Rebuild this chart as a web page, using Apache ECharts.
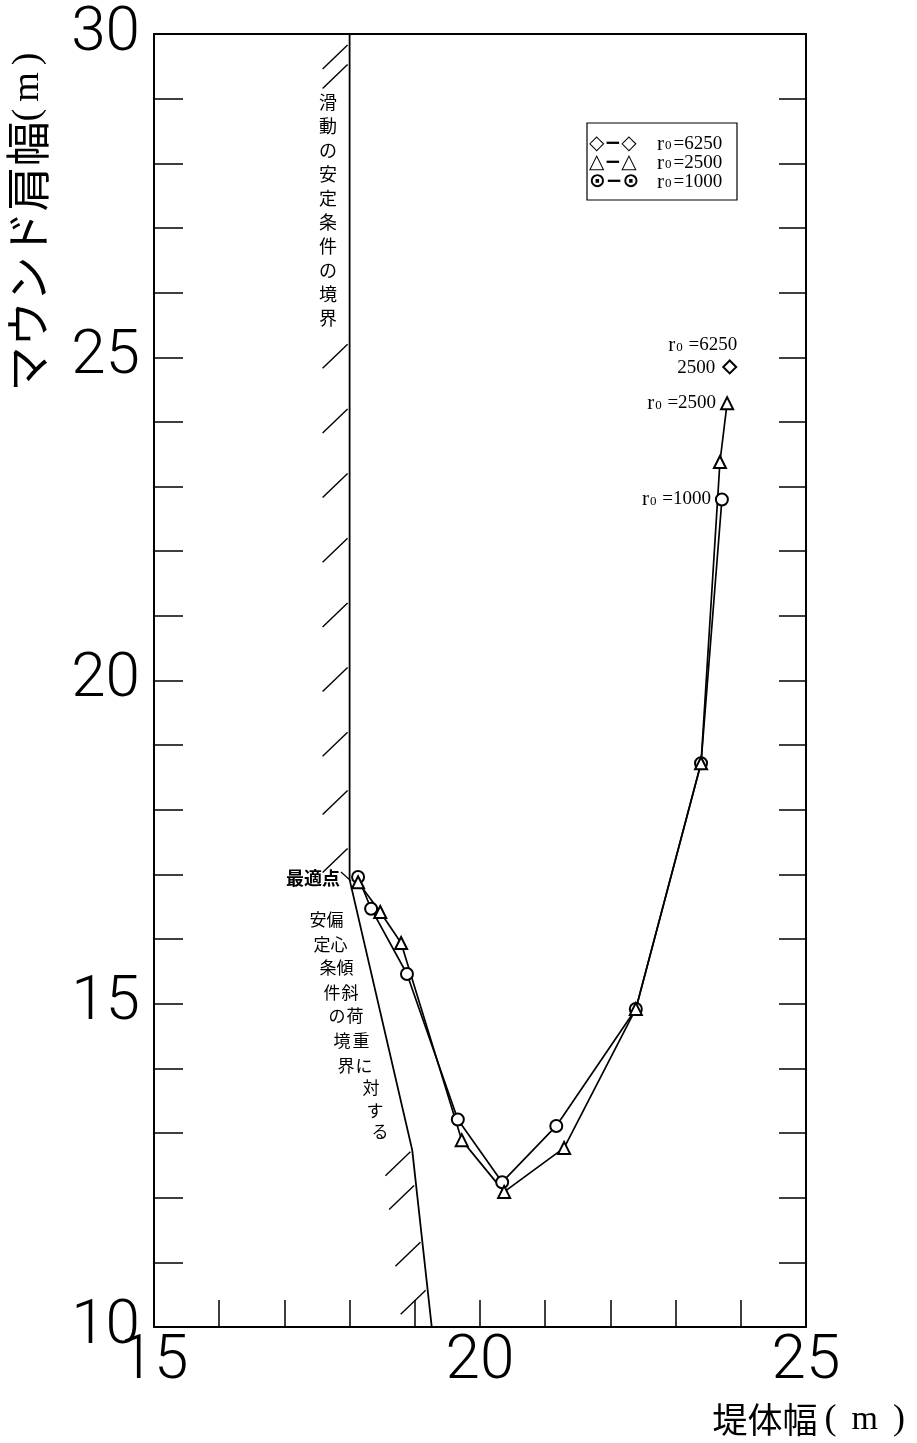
<!DOCTYPE html>
<html>
<head>
<meta charset="utf-8">
<script src="https://cdn.jsdelivr.net/npm/echarts@6/dist/echarts.min.js"></script>
<style>
html,body{margin:0;padding:0;background:#fff;}
#chart{width:917px;height:1443px;}
</style>
</head>
<body>
<div id="chart"></div>
<script>
// ---- data ----
const xTickLabels = [15, 20, 25];
const yTickLabels = [10, 15, 20, 25, 30];
const r1000 = [[18.13,16.96],[18.33,16.47],[18.88,15.46],[19.66,13.21],[20.34,12.24],[21.17,13.11],[22.39,14.92],[23.39,18.72],[23.71,22.80]];
const r2500 = [[18.13,16.88],[18.47,16.42],[18.79,15.94],[19.72,12.89],[20.37,12.09],[21.29,12.77],[22.39,14.92],[23.39,18.72],[23.68,23.38],[23.79,24.29]];
const r6250 = [[23.83,24.85]];
const slideBoundary = [[18.0,30.0],[18.0,16.92]];
const eccBoundary = [[18.0,16.92],[18.96,12.74],[19.26,10.0]];
const slideHatchY = [29.83,29.53,25.2,24.2,23.2,22.2,21.2,20.2,19.2,18.3,17.4];
const eccHatchY = [12.71,12.19,11.31,10.57];

function xOnBoundary(b, y){
  for(let i=0;i<b.length-1;i++){
    const a=b[i], c=b[i+1];
    if((y<=a[1]&&y>=c[1])||(y>=a[1]&&y<=c[1])){
      const t=(y-a[1])/(c[1]-a[1]);
      return a[0]+t*(c[0]-a[0]);
    }
  }
  return b[b.length-1][0];
}
const hatchData = slideHatchY.map(y=>[xOnBoundary(slideBoundary,y),y])
  .concat(eccHatchY.map(y=>[xOnBoundary(eccBoundary,y),y]));

const SERIF = '"Liberation Serif"';
const JP = 'Noto Sans CJK JP';
const serifRich = {
  r:{fontFamily:SERIF,fontSize:21,color:'#000'},
  s:{fontFamily:SERIF,fontSize:13,color:'#000',padding:[4,1,0,1]},
  t:{fontFamily:SERIF,fontSize:19,color:'#000'},
  u:{fontFamily:SERIF,fontSize:19,color:'#000',align:'right',padding:[0,22,0,0]}
};
const legendRich = {
  r:{fontFamily:SERIF,fontSize:21,color:'#000'},
  s:{fontFamily:SERIF,fontSize:13,color:'#000',padding:[4,2,0,1]},
  t:{fontFamily:SERIF,fontSize:19,color:'#000'}
};
function withLastLabel(arr, fmt, extra){
  return arr.map((p,i)=> i===arr.length-1 ? {value:p,label:Object.assign({show:true,position:'left',distance:4,formatter:fmt,rich:serifRich,color:'#000'},extra||{})} : p);
}

const black = '#000';
const chart = echarts.init(document.getElementById('chart'), null, {renderer:'canvas'});

const slantRows = [
  ['安',318,920],['偏',335,920],
  ['定',322,945],['心',339,945],
  ['条',328,968],['傾',345,968],
  ['件',332,993],['斜',350,993],
  ['の',337,1016],['荷',355,1016],
  ['境',342,1041],['重',361,1041],
  ['界',346,1066],['に',364,1066],
  ['対',371,1088],['す',375,1111],['る',380,1132]
];
const jpFont = '"Noto Sans CJK JP"';
const titleRich = {
  a:{fontFamily:JP,fontSize:45,color:black},
  p:{fontFamily:SERIF,fontSize:38,color:black},
  m:{fontFamily:SERIF,fontSize:38,color:black,padding:[0,7,0,7]}
};
const xTitleRich = {
  a:{fontFamily:JP,fontSize:35,color:black},
  p:{fontFamily:SERIF,fontSize:36,color:black,padding:[0,7,0,7]},
  m:{fontFamily:SERIF,fontSize:34,color:black,padding:[0,8,0,8]}
};
const graphics = [
  {type:'text',x:28,y:222,rotation:Math.PI/2,style:{text:'{a|マウンド肩幅}{p|(}{m|m}{p|)}',rich:titleRich,textAlign:'center',textVerticalAlign:'middle'}},
  {type:'text',x:912,y:1420,style:{text:'{a|堤体幅}{p|(}{m|m}{p|)}',rich:xTitleRich,textAlign:'right',textVerticalAlign:'middle'}},
  {type:'text',x:328,y:90,style:{text:'滑動の安定条件の境界'.split('').join('\n'),font:'18px '+jpFont,lineHeight:24,fill:black,textAlign:'center',textVerticalAlign:'top'}},
  {type:'text',x:340,y:878,style:{text:'最適点',font:'bold 18px '+jpFont,fill:black,textAlign:'right',textVerticalAlign:'middle'}},
  {type:'line',shape:{x1:341,y1:872,x2:351,y2:881},style:{stroke:black,lineWidth:1.2}},
  // legend box
  {type:'rect',shape:{x:587,y:123,width:150,height:77},style:{fill:'#fff',stroke:black,lineWidth:1.2}},
  {type:'text',x:589,y:144,style:{text:'◇−◇',font:'bold 20px "DejaVu Sans"',fill:black,textVerticalAlign:'middle'}},
  {type:'text',x:589,y:163,style:{text:'△−△',font:'bold 20px "DejaVu Sans"',fill:black,textVerticalAlign:'middle'}},
  {type:'text',x:589,y:182,style:{text:'⊙−⊙',font:'bold 20px "DejaVu Sans"',fill:black,textVerticalAlign:'middle'}},
  {type:'text',x:657,y:144,style:{text:'{r|r}{s|0}{t|=6250}',rich:legendRich,textVerticalAlign:'middle'}},
  {type:'text',x:657,y:163,style:{text:'{r|r}{s|0}{t|=2500}',rich:legendRich,textVerticalAlign:'middle'}},
  {type:'text',x:657,y:182,style:{text:'{r|r}{s|0}{t|=1000}',rich:legendRich,textVerticalAlign:'middle'}}
].concat(slantRows.map(r=>({type:'text',x:r[1],y:r[2],style:{text:r[0],font:'17px '+jpFont,fill:black,textAlign:'center',textVerticalAlign:'middle'}})));

const axisLabelStyle = {fontSize:62,fontFamily:'Roboto',fontWeight:300,color:black};

const option = {
  animation:false,
  backgroundColor:'#fff',
  grid:{left:154,top:34,width:652,height:1293,outerBoundsMode:'none'},
  xAxis:[
    {type:'value',min:15,max:25,interval:1,position:'bottom',
     axisLine:{lineStyle:{color:black,width:2}},
     axisTick:{inside:true,length:27,lineStyle:{color:black,width:1.5}},
     axisLabel:Object.assign({margin:4,formatter:v=>xTickLabels.includes(v)?String(v):''},axisLabelStyle),
     splitLine:{show:false}},
    {type:'value',min:15,max:25,interval:1,position:'top',
     axisLine:{lineStyle:{color:black,width:2}},axisTick:{show:false},axisLabel:{show:false},splitLine:{show:false}}
  ],
  yAxis:[
    {type:'value',min:10,max:30,interval:1,position:'left',
     axisLine:{lineStyle:{color:black,width:2}},
     axisTick:{inside:true,length:29,lineStyle:{color:black,width:1.5}},
     axisLabel:Object.assign({margin:14,formatter:v=>yTickLabels.includes(v)?String(v):''},axisLabelStyle),
     splitLine:{show:false}},
    {type:'value',min:10,max:30,interval:1,position:'right',
     axisLine:{lineStyle:{color:black,width:2}},
     axisTick:{inside:true,length:27,lineStyle:{color:black,width:1.5}},
     axisLabel:{show:false},splitLine:{show:false}}
  ],
  graphic:graphics,
  series:[
    {type:'line',name:'slide',data:slideBoundary,showSymbol:false,symbol:'none',lineStyle:{color:black,width:1.8},silent:true},
    {type:'line',name:'ecc',data:eccBoundary,showSymbol:false,symbol:'none',lineStyle:{color:black,width:1.8},silent:true},
    {type:'custom',name:'hatch',data:hatchData,silent:true,
     renderItem:(params,api)=>{
       const p=api.coord([api.value(0),api.value(1)]);
       return {type:'line',shape:{x1:p[0]-2,y1:p[1],x2:p[0]-27,y2:p[1]+24},style:{stroke:black,lineWidth:1.4}};
     }},
    {type:'line',name:'r0=1000',data:withLastLabel(r1000,'{r|r}{s|0}{t| =1000}'),symbol:'emptyCircle',symbolSize:12,
     lineStyle:{color:black,width:1.7},itemStyle:{color:black,borderWidth:1.8},z:5},
    {type:'line',name:'r0=2500',data:withLastLabel(r2500,'{r|r}{s|0}{t| =2500}'),symbol:'emptyTriangle',symbolSize:12,
     lineStyle:{color:black,width:1.7},itemStyle:{color:black,borderWidth:1.8},z:5},
    {type:'scatter',name:'r0=6250',data:withLastLabel(r6250,'{r|r}{s|0}{t| =6250}\n{u|2500}',{offset:[19,-10],lineHeight:23}),symbol:'emptyDiamond',symbolSize:13,
     itemStyle:{color:black,borderWidth:2,opacity:1},z:5}
  ]
};
chart.setOption(option);
</script>
</body>
</html>
